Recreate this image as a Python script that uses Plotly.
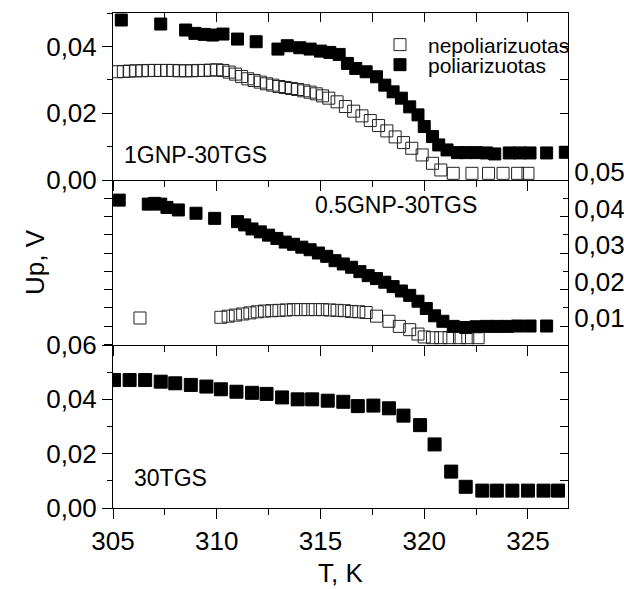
import plotly.graph_objects as go

# 1GNP-30TGS
p1_open_T = [305.2, 305.5, 305.8, 306.1, 306.4, 306.7, 307.0, 307.3, 307.6, 307.9, 308.2, 308.5,
             308.8, 309.1, 309.4, 309.7, 310.0, 310.3, 310.6, 310.9, 311.2, 311.5, 311.8, 312.1,
             312.4, 312.7, 313.0, 313.3, 313.6, 313.9, 314.2, 314.5, 314.8, 315.1, 315.4, 315.8,
             316.2, 316.6, 317.0, 317.4, 317.8, 318.2, 318.6, 319.0, 319.4, 319.9, 320.4, 320.8,
             321.4, 322.3, 323.1, 323.8, 324.5, 325.0]
p1_open_U = [0.0324, 0.0325, 0.0326, 0.0327, 0.0327, 0.0328, 0.0328, 0.0328, 0.0328, 0.0328, 0.0327, 0.0327,
             0.0327, 0.0328, 0.0328, 0.0329, 0.0330, 0.0328, 0.0323, 0.0317, 0.0310, 0.0303, 0.0298, 0.0293,
             0.0288, 0.0284, 0.0280, 0.0277, 0.0274, 0.0271, 0.0267, 0.0263, 0.0258, 0.0252, 0.0245, 0.0234,
             0.0220, 0.0206, 0.0192, 0.0178, 0.0163, 0.0147, 0.0129, 0.0112, 0.0095, 0.0075, 0.0050, 0.0030,
             0.0020, 0.0020, 0.0020, 0.0020, 0.0020, 0.0020]
p1_fill_T = [305.4, 307.3, 308.5, 308.95, 309.4, 309.8, 310.3, 311.0, 311.9, 312.95, 313.4, 314.0, 314.5,
             315.0, 315.45, 315.9, 316.3, 316.7, 317.2, 317.7, 318.1, 318.5, 318.9, 319.3, 319.7, 320.0,
             320.4, 320.7, 321.1, 321.6, 322.0, 322.5, 323.0, 323.4, 324.1, 324.6, 325.1, 325.9, 326.8]
p1_fill_U = [0.0479, 0.0467, 0.0449, 0.0439, 0.0436, 0.0434, 0.0437, 0.0422, 0.0414, 0.0392, 0.0402, 0.0396, 0.0392,
             0.0386, 0.0382, 0.0376, 0.0349, 0.0334, 0.0324, 0.0309, 0.0284, 0.0264, 0.0245, 0.0219, 0.0195, 0.0160,
             0.0130, 0.0105, 0.0090, 0.0082, 0.0082, 0.0082, 0.0081, 0.0078, 0.0081, 0.0081, 0.0081, 0.0081, 0.0083]

# 0.5GNP-30TGS
p2_open_T = [306.3, 310.2, 310.55, 310.9, 311.25, 311.6, 311.95, 312.3, 312.65, 313.0, 313.35, 313.7,
             314.05, 314.4, 314.75, 315.1, 315.45, 315.8, 316.15, 316.5, 316.85, 317.2, 317.7, 318.3,
             318.8, 319.3, 319.7, 320.0, 320.4, 320.8, 321.2, 321.7, 322.1, 322.6]
p2_open_U = [0.0122, 0.0124, 0.0127, 0.0130, 0.0133, 0.0136, 0.0139, 0.0141, 0.0142, 0.0143, 0.0144, 0.0145,
             0.0145, 0.0145, 0.0145, 0.0145, 0.0144, 0.0143, 0.0142, 0.0140, 0.0139, 0.0137, 0.0127, 0.0113,
             0.0099, 0.0090, 0.0078, 0.0070, 0.0068, 0.0068, 0.0068, 0.0068, 0.0068, 0.0068]
p2_fill_T = [305.3, 306.7, 307.0, 307.3, 307.6, 308.15, 309.0, 309.9, 311.0, 311.35, 311.7, 312.1, 312.5,
             312.9, 313.3, 313.7, 314.1, 314.5, 314.9, 315.3, 315.7, 316.1, 316.5, 316.9, 317.3, 317.7,
             318.1, 318.5, 318.9, 319.3, 319.7, 320.1, 320.5, 320.9, 321.4, 322.0, 322.5, 323.0, 323.5,
             324.0, 324.5, 325.1, 325.9]
p2_fill_U = [0.0445, 0.0434, 0.0436, 0.0434, 0.0425, 0.0418, 0.0409, 0.0395, 0.0386, 0.0377, 0.0366, 0.0358, 0.0349,
             0.0340, 0.0330, 0.0324, 0.0316, 0.0309, 0.0300, 0.0291, 0.0279, 0.0270, 0.0261, 0.0249, 0.0238, 0.0230,
             0.0220, 0.0208, 0.0196, 0.0184, 0.0168, 0.0148, 0.0128, 0.0113, 0.0099, 0.0096, 0.0098, 0.0099, 0.0099,
             0.0099, 0.0100, 0.0100, 0.0100]

# 30TGS
p3_T = [305.05, 305.8, 306.55, 307.3, 308.0, 308.75, 309.5, 310.2, 310.95, 311.7, 312.4, 313.15, 313.9, 314.6,
        315.35, 316.1, 316.8, 317.55, 318.3, 319.0, 319.8, 320.5, 321.3, 322.0, 322.8, 323.5, 324.25, 325.0,
        325.75, 326.45]
p3_U = [0.0471, 0.0471, 0.0471, 0.0465, 0.0459, 0.0453, 0.0447, 0.0437, 0.0428, 0.0424, 0.0420, 0.0407, 0.0400, 0.0400,
        0.0395, 0.0391, 0.0375, 0.0377, 0.0367, 0.0340, 0.0305, 0.0234, 0.0134, 0.0078, 0.0064, 0.0064, 0.0064, 0.0064,
        0.0064, 0.0064]

xrange = [305, 326.93]
font = "Liberation Sans, Arial, sans-serif"
open_m = dict(symbol="square-open", size=12, color="#222", line=dict(width=1, color="#222"))
fill_m = dict(symbol="square", size=12, color="black", line=dict(width=1, color="black"))

fig = go.Figure()
fig.add_trace(go.Scatter(x=p1_open_T, y=p1_open_U, mode="markers", marker=open_m,
                         name="nepoliarizuotas", xaxis="x3", yaxis="y", legend="legend"))
fig.add_trace(go.Scatter(x=p1_fill_T, y=p1_fill_U, mode="markers", marker=fill_m,
                         name="poliarizuotas", xaxis="x3", yaxis="y", legend="legend2"))
fig.add_trace(go.Scatter(x=p2_open_T, y=p2_open_U, mode="markers", marker=open_m,
                         showlegend=False, xaxis="x2", yaxis="y2"))
fig.add_trace(go.Scatter(x=p2_fill_T, y=p2_fill_U, mode="markers", marker=fill_m,
                         showlegend=False, xaxis="x2", yaxis="y2"))
fig.add_trace(go.Scatter(x=p3_T, y=p3_U, mode="markers",
                         marker=dict(symbol="square", size=13, color="black", line=dict(width=1, color="black")),
                         showlegend=False, xaxis="x", yaxis="y3"))

# empty traces so the extra frame axes (top / right sides) get drawn
for xa, ya in [("x4", "y"), ("x3", "y4"), ("x2", "y5"), ("x", "y6")]:
    fig.add_trace(go.Scatter(x=[], y=[], mode="markers", showlegend=False, hoverinfo="skip",
                             xaxis=xa, yaxis=ya))

ax = dict(showline=True, linecolor="black", linewidth=1, showgrid=False, zeroline=False,
          mirror=False, tickcolor="black", automargin=False)

def xax(anchor, labels):
    return dict(ax, anchor=anchor, range=xrange, tick0=305, dtick=5, ticks="outside", ticklen=10,
                minor=dict(dtick=2.5, tick0=305, ticks="outside", ticklen=6, tickcolor="black"),
                showticklabels=labels, tickfont=dict(size=26, color="black"))

fig.update_layout(
    width=624, height=589,
    margin=dict(l=113, r=56, t=13, b=81),
    paper_bgcolor="white", plot_bgcolor="white",
    font=dict(family=font, color="black"),
    separators=",.",
    xaxis=xax("y3", True),
    xaxis2=xax("y2", False),
    xaxis3=xax("y", False),
    xaxis4=dict(ax, overlaying="x3", side="top", anchor="y", range=xrange, tick0=305, dtick=2.5,
                ticks="inside", ticklen=9, showticklabels=False),
    yaxis=dict(ax, domain=[0.66263, 1], anchor="x3", range=[0, 0.05], tick0=0, dtick=0.02,
               tickformat=".2f", ticks="outside", ticklen=10, tickfont=dict(size=26),
               minor=dict(dtick=0.01, tick0=0, ticks="outside", ticklen=5, tickcolor="black")),
    yaxis2=dict(ax, domain=[0.32929, 0.66263], anchor="x2", range=[0.0048, 0.05001], tick0=0, dtick=0.005,
                ticks="outside", ticklen=8, showticklabels=False),
    yaxis3=dict(ax, domain=[0, 0.32929], anchor="x", range=[0, 0.06], tick0=0, dtick=0.02,
                tickformat=".2f", ticks="outside", ticklen=10, tickfont=dict(size=26),
                minor=dict(dtick=0.01, tick0=0, ticks="outside", ticklen=5, tickcolor="black")),
    yaxis4=dict(ax, overlaying="y", side="right", anchor="x3", range=[0, 0.05], tick0=0, dtick=0.01,
                ticks="inside", ticklen=8, showticklabels=False),
    yaxis5=dict(ax, overlaying="y2", side="right", anchor="x2", range=[0.0048, 0.05001], tick0=0, dtick=0.01,
                tickformat=".2f", ticks="inside", ticklen=8, tickfont=dict(size=26), ticklabelshift=-8,
                minor=dict(dtick=0.005, tick0=0, ticks="inside", ticklen=5, tickcolor="black")),
    yaxis6=dict(ax, overlaying="y3", side="right", anchor="x", range=[0, 0.06], tick0=0, dtick=0.01,
                ticks="inside", ticklen=8, showticklabels=False),
    legend=dict(x=0.5692, y=0.9354, xanchor="left", yanchor="middle", itemwidth=46,
                font=dict(size=21), bgcolor="rgba(0,0,0,0)"),
    legend2=dict(x=0.5692, y=0.8949, xanchor="left", yanchor="middle", itemwidth=46,
                 font=dict(size=21), bgcolor="rgba(0,0,0,0)"),
    annotations=[
        dict(text="1GNP-30TGS", x=0.0198, y=0.7131, xref="paper", yref="paper",
             xanchor="left", yanchor="middle", showarrow=False, font=dict(size=23)),
        dict(text="0.5GNP-30TGS", x=0.4396, y=0.6121, xref="paper", yref="paper",
             xanchor="left", yanchor="middle", showarrow=False, font=dict(size=23)),
        dict(text="30TGS", x=0.0418, y=0.0606, xref="paper", yref="paper",
             xanchor="left", yanchor="middle", showarrow=False, font=dict(size=23)),
        dict(text="Up, V", x=-0.1714, y=0.497, xref="paper", yref="paper", textangle=-90,
             xanchor="center", yanchor="middle", showarrow=False, font=dict(size=26)),
        dict(text="T, K", x=0.499, y=-0.131, xref="paper", yref="paper",
             xanchor="center", yanchor="middle", showarrow=False, font=dict(size=26)),
    ],
)

# page body has a default 8px margin; drop it so the 624x589 figure fills the window
fig.write_html("out.html", config={"displayModeBar": False},
               post_script="document.body.style.margin = '0';")
